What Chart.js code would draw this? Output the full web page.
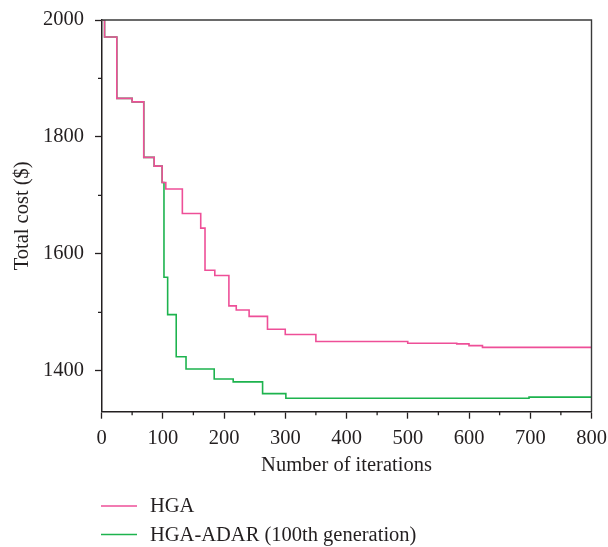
<!DOCTYPE html>
<html>
<head>
<meta charset="utf-8">
<script src="https://cdn.jsdelivr.net/npm/chart.js@4.4.1/dist/chart.umd.min.js"></script>
<style>
  html, body { margin: 0; padding: 0; background: #fff; }
  #wrap { width: 608px; height: 547px; }
</style>
</head>
<body>
<div id="wrap"><canvas id="costChart" width="608" height="547"></canvas></div>
<script>
// Convergence of total cost: iteration where the cost changes, and the new cost
const hgaIter = [0, 5, 25, 50, 69, 86, 99, 105, 132, 162, 169, 185, 208, 220, 241, 271, 300, 350, 500, 580, 600, 622, 800];
const hgaCost = [2000, 1971, 1866, 1860, 1765, 1750, 1722, 1711, 1669, 1644, 1572, 1563, 1511, 1504, 1493, 1471, 1462, 1450, 1447, 1446, 1443, 1440, 1440];

const adarIter = [0, 5, 25, 50, 69, 86, 99, 102, 108, 122, 138, 184, 215, 263, 301, 698, 800];
const adarCost = [2000, 1971, 1866, 1860, 1765, 1750, 1722, 1560, 1496, 1424, 1403, 1386, 1381, 1361, 1353, 1355, 1355];

const seriesLabels = ['HGA', 'HGA-ADAR (100th generation)'];
const seriesColors = ['#ee4f98', '#1db34e'];

const xTicks = [0, 50, 100, 150, 200, 250, 300, 350, 400, 450, 500, 550, 600, 650, 700, 750, 800];
const yTicks = [1400, 1500, 1600, 1700, 1800, 1900, 2000];

const FONT = '"Liberation Serif", "DejaVu Serif", serif';
const FSIZE = 20.5;
const INK = '#231f20';

function toPoints(xs, ys) {
    return xs.map((x, i) => ({ x: x, y: ys[i] }));
}

// Box around the plot, minor ticks and the stacked legend under the axis
const framePlugin = {
    id: 'frame',
    afterDraw(chart) {
        const ctx = chart.ctx;
        const a = chart.chartArea;
        const xs = chart.scales.x;
        const ys = chart.scales.y;

        ctx.save();
        ctx.strokeStyle = '#3a3a3a';
        ctx.lineWidth = 1.4;
        ctx.beginPath();
        ctx.moveTo(a.left, a.top);
        ctx.lineTo(a.right, a.top);
        ctx.lineTo(a.right, a.bottom);
        ctx.stroke();

        // minor ticks
        ctx.strokeStyle = INK;
        ctx.lineWidth = 1.3;
        ctx.beginPath();
        xTicks.filter(v => v % 100 !== 0).forEach(v => {
            const px = xs.getPixelForValue(v);
            ctx.moveTo(px, a.bottom);
            ctx.lineTo(px, a.bottom + 3.5);
        });
        yTicks.filter(v => v % 200 !== 0).forEach(v => {
            const py = ys.getPixelForValue(v);
            ctx.moveTo(a.left, py);
            ctx.lineTo(a.left - 3.5, py);
        });
        ctx.stroke();

        // legend
        ctx.font = FSIZE + 'px ' + FONT;
        ctx.textBaseline = 'middle';
        ctx.textAlign = 'left';
        chart.data.datasets.forEach((ds, i) => {
            const y = 506 + i * 28.5;
            ctx.strokeStyle = ds.borderColor;
            ctx.lineWidth = 1.6;
            ctx.beginPath();
            ctx.moveTo(101, y);
            ctx.lineTo(137, y);
            ctx.stroke();
            ctx.fillStyle = INK;
            ctx.fillText(ds.label, 150, y + 1);
        });
        ctx.restore();
    }
};

new Chart(document.getElementById('costChart').getContext('2d'), {
    type: 'line',
    data: {
        datasets: [
            {
                label: seriesLabels[0],
                data: toPoints(hgaIter, hgaCost),
                borderColor: seriesColors[0],
                borderWidth: 1.6,
                stepped: 'before',
                pointRadius: 0,
                fill: false
            },
            {
                label: seriesLabels[1],
                data: toPoints(adarIter, adarCost),
                borderColor: seriesColors[1],
                borderWidth: 1.6,
                stepped: 'before',
                pointRadius: 0,
                fill: false
            }
        ]
    },
    options: {
        responsive: false,
        animation: false,
        layout: { padding: { left: 0, top: 20, right: 16.5, bottom: 0 } },
        plugins: {
            legend: { display: false },
            tooltip: { enabled: false }
        },
        scales: {
            x: {
                type: 'linear',
                min: 0,
                max: 800,
                afterFit(scale) {
                    scale.height = 135.3;
                    scale.paddingLeft = 0;
                    scale.paddingRight = 0;
                },
                afterBuildTicks(scale) { scale.ticks = xTicks.map(v => ({ value: v })); },
                border: { display: true, color: INK, width: 1.5 },
                grid: {
                    drawOnChartArea: false,
                    tickLength: 7,
                    tickWidth: 1.3,
                    tickColor: c => (c.tick && c.tick.value % 100 === 0) ? INK : 'rgba(0,0,0,0)'
                },
                ticks: {
                    autoSkip: false,
                    maxRotation: 0,
                    padding: 8,
                    color: INK,
                    font: { family: FONT, size: FSIZE },
                    callback: v => (v % 100 === 0 ? String(v) : '')
                },
                title: {
                    display: true,
                    text: 'Number of iterations',
                    color: INK,
                    font: { family: FONT, size: FSIZE },
                    padding: { top: 0, bottom: 69 }
                }
            },
            y: {
                type: 'linear',
                min: 1330,
                max: 2000,
                afterFit(scale) {
                    scale.width = 101.5;
                    scale.paddingTop = 0;
                    scale.paddingBottom = 0;
                },
                afterBuildTicks(scale) { scale.ticks = yTicks.map(v => ({ value: v })); },
                border: { display: true, color: INK, width: 1.5 },
                grid: {
                    drawOnChartArea: false,
                    tickLength: 6.5,
                    tickWidth: 1.3,
                    tickColor: c => (c.tick && c.tick.value % 200 === 0) ? INK : 'rgba(0,0,0,0)'
                },
                ticks: {
                    autoSkip: false,
                    padding: 11,
                    color: INK,
                    font: { family: FONT, size: FSIZE },
                    callback: v => (v % 200 === 0 ? String(v) : '')
                },
                title: {
                    display: true,
                    text: 'Total cost ($)',
                    color: INK,
                    font: { family: FONT, size: FSIZE },
                    padding: { top: 10, bottom: 0 }
                }
            }
        }
    },
    plugins: [framePlugin]
});
</script>
</body>
</html>
